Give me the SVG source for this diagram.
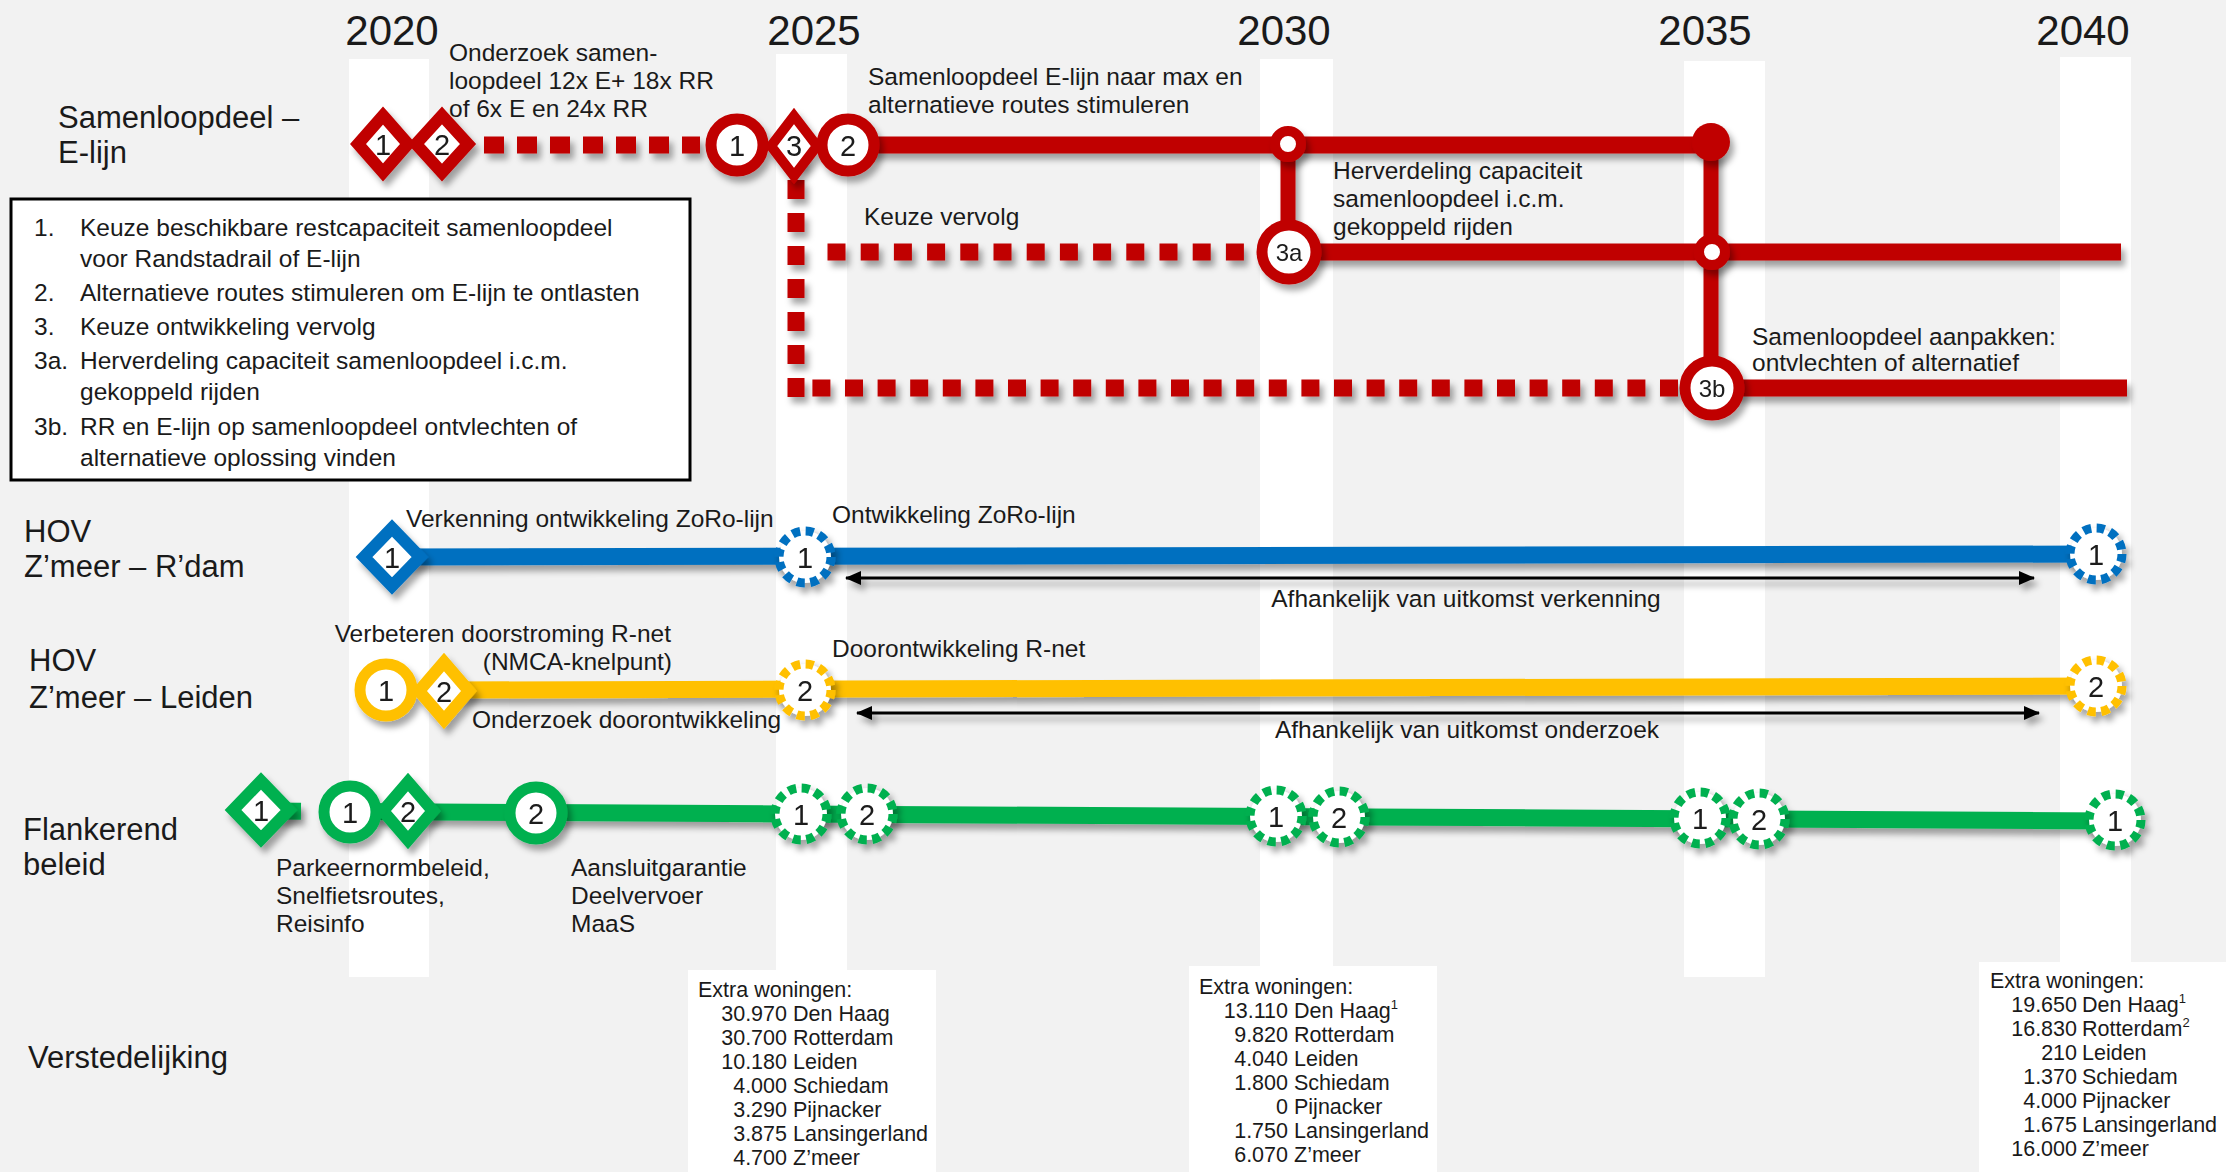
<svg xmlns="http://www.w3.org/2000/svg" width="2226" height="1172" viewBox="0 0 2226 1172">
<defs>
<style>
text{font-family:"Liberation Sans",Arial,sans-serif;fill:#1a1a1a}
.yr{font-size:42px;text-anchor:middle}
.row{font-size:31px}
.lb{font-size:24.5px}
.bx{font-size:21.5px}
.n{font-size:29px;text-anchor:middle}
.n2{font-size:24px;text-anchor:middle}
.end{text-anchor:end}
.mid{text-anchor:middle}
.band{fill:#fff}
.ln{fill:none;stroke-width:17;stroke-linecap:butt}
.vl{fill:none;stroke-width:15}
.dot{fill:none;stroke-width:17;stroke-dasharray:18 15.2}
.red{stroke:#c00000}
.blue{stroke:#0070c0}
.yel{stroke:#ffc000}
.grn{stroke:#00b050}
.dm{fill:#fff;stroke-width:12;stroke-linejoin:miter}
.ci{fill:#fff;stroke-width:11}
.dc{fill:#fff;stroke-width:9;stroke-dasharray:8 5.6}
.arr{stroke:#000;stroke-width:3;fill:none;marker-start:url(#ah);marker-end:url(#ah)}
</style>
<filter id="sh" x="-5%" y="-20%" width="110%" height="150%">
<feDropShadow dx="4" dy="6" stdDeviation="3" flood-color="#000" flood-opacity="0.35"/>
</filter>
<marker id="ah" viewBox="0 0 16 14" refX="15" refY="7" markerWidth="16" markerHeight="14" markerUnits="userSpaceOnUse" orient="auto-start-reverse">
<path d="M0,0 L16,7 L0,14 Z" fill="#000"/>
</marker>
</defs>
<rect x="0" y="0" width="2226" height="1172" fill="#f2f2f2"/>
<g id="bands">
<rect class="band" x="349" y="59" width="80" height="918"/>
<rect class="band" x="776" y="54" width="71" height="930"/>
<rect class="band" x="1260" y="59" width="73" height="918"/>
<rect class="band" x="1684" y="61" width="81" height="916"/>
<rect class="band" x="2060" y="57" width="71" height="920"/>
</g>
<g id="years">
<text class="yr" x="392" y="45">2020</text>
<text class="yr" x="814" y="45">2025</text>
<text class="yr" x="1284" y="45">2030</text>
<text class="yr" x="1705" y="45">2035</text>
<text class="yr" x="2083" y="45">2040</text>
</g>
<g id="row-labels">
<text class="row" x="58" y="128">Samenloopdeel –</text>
<text class="row" x="58" y="163">E-lijn</text>
<text class="row" x="24" y="542">HOV</text>
<text class="row" x="24" y="577">Z’meer – R’dam</text>
<text class="row" x="29" y="671">HOV</text>
<text class="row" x="29" y="708">Z’meer – Leiden</text>
<text class="row" x="23" y="840">Flankerend</text>
<text class="row" x="23" y="875">beleid</text>
<text class="row" x="28" y="1068">Verstedelijking</text>
</g>
<g id="legend">
<rect x="11" y="199" width="679" height="281" fill="#fff" stroke="#000" stroke-width="3"/>
<text class="lb" x="34" y="236">1.</text><text class="lb" x="80" y="236">Keuze beschikbare restcapaciteit samenloopdeel</text>
<text class="lb" x="80" y="267">voor Randstadrail of E-lijn</text>
<text class="lb" x="34" y="301">2.</text><text class="lb" x="80" y="301">Alternatieve routes stimuleren om E-lijn te ontlasten</text>
<text class="lb" x="34" y="335">3.</text><text class="lb" x="80" y="335">Keuze ontwikkeling vervolg</text>
<text class="lb" x="34" y="369">3a.</text><text class="lb" x="80" y="369">Herverdeling capaciteit samenloopdeel i.c.m.</text>
<text class="lb" x="80" y="400">gekoppeld rijden</text>
<text class="lb" x="34" y="435">3b.</text><text class="lb" x="80" y="435">RR en E-lijn op samenloopdeel ontvlechten of</text>
<text class="lb" x="80" y="466">alternatieve oplossing vinden</text>
</g>
<g id="connectors" filter="url(#sh)">
<path class="dot red" d="M484,145 H700" style="stroke-dasharray:20 13"/>
<path class="dot red" d="M796,397 V150" style="stroke-dasharray:19 14"/>
<path class="dot red" d="M827.5,252 H1262"/>
<path class="dot red" d="M812.4,388 H1684" style="stroke-dasharray:18 14.6"/>
<path class="ln red" d="M848,145 H1711"/>
<path class="vl red" d="M1288,144 V252"/>
<path class="vl red" d="M1711,142 V388"/>
<path class="ln red" d="M1289,252 H2121"/>
<path class="ln red" d="M1712,388 H2127"/>
<path class="ln blue" d="M392,557 L2096,554"/>
<path class="ln yel" d="M444,690 L2096,686"/>
<path class="ln grn" d="M261,811 L301,811.2"/>
<path class="ln grn" d="M350,811.5 L2115,821"/>
<path class="arr" d="M846,578 H2034"/>
<path class="arr" d="M857,713 H2039"/>
</g>
<g id="nodes" filter="url(#sh)">
<g id="e-d1"><polygon class="dm red" points="383,115.5 408,144 383,172.5 358,144"/><text class="n" x="383" y="154.5">1</text></g>
<g id="e-d2"><polygon class="dm red" points="442,115.5 468,144 442,172.5 416,144"/><text class="n" x="442" y="154.5">2</text></g>
<g id="e-c1"><circle class="ci red" cx="737" cy="145" r="26"/><text class="n" x="737" y="155.5">1</text></g>
<g id="e-c2"><circle class="ci red" cx="848" cy="145" r="26"/><text class="n" x="848" y="155.5">2</text></g>
<g id="e-d3"><polygon class="dm red" points="794,116 817,146 794,176 771,146" style="stroke-width:10"/><text class="n" x="794" y="156">3</text></g>
<g id="e-j2030"><circle class="ci red" cx="1288" cy="144" r="13" style="stroke-width:10"/></g>
<g id="e-j2035a"><circle cx="1711" cy="142" r="19" fill="#c00000"/></g>
<g id="e-c3a"><circle class="ci red" cx="1289" cy="252" r="27"/><text class="n2" x="1289" y="260.5">3a</text></g>
<g id="e-j2035b"><circle class="ci red" cx="1712" cy="252" r="13" style="stroke-width:10"/></g>
<g id="e-c3b"><circle class="ci red" cx="1712" cy="388" r="27"/><text class="n2" x="1712" y="396.5">3b</text></g>
<g id="r-d1"><polygon class="dm blue" points="392,528 420,557 392,586 364,557"/><text class="n" x="392" y="567.5">1</text></g>
<g id="r-c2025"><circle class="dc blue" cx="805" cy="557" r="26"/><text class="n" x="805" y="567.5">1</text></g>
<g id="r-c2040"><circle class="dc blue" cx="2096" cy="554" r="26"/><text class="n" x="2096" y="564.5">1</text></g>
<g id="l-c1"><circle class="ci yel" cx="386" cy="690" r="26"/><text class="n" x="386" y="700.5">1</text></g>
<g id="l-d2"><polygon class="dm yel" points="444,662 469,691 444,720 419,691"/><text class="n" x="444" y="701.5">2</text></g>
<g id="l-c2025"><circle class="dc yel" cx="805" cy="690" r="26"/><text class="n" x="805" y="700.5">2</text></g>
<g id="l-c2040"><circle class="dc yel" cx="2096" cy="686" r="26"/><text class="n" x="2096" y="696.5">2</text></g>
<g id="f-d1"><polygon class="dm grn" points="261,781 289,810 261,839 233,810"/><text class="n" x="261" y="820.5">1</text></g>
<g id="f-c1"><circle class="ci grn" cx="350" cy="812" r="26"/><text class="n" x="350" y="822.5">1</text></g>
<g id="f-d2"><polygon class="dm grn" points="408,782 433,811 408,840 383,811"/><text class="n" x="408" y="821.5">2</text></g>
<g id="f-c2"><circle class="ci grn" cx="536" cy="813" r="26"/><text class="n" x="536" y="823.5">2</text></g>
<g id="f-c2025a"><circle class="dc grn" cx="801" cy="814" r="26"/><text class="n" x="801" y="824.5">1</text></g>
<g id="f-c2025b"><circle class="dc grn" cx="867" cy="814" r="26"/><text class="n" x="867" y="824.5">2</text></g>
<g id="f-c2030a"><circle class="dc grn" cx="1276" cy="816" r="26"/><text class="n" x="1276" y="826.5">1</text></g>
<g id="f-c2030b"><circle class="dc grn" cx="1339" cy="817" r="26"/><text class="n" x="1339" y="827.5">2</text></g>
<g id="f-c2035a"><circle class="dc grn" cx="1700" cy="818" r="26"/><text class="n" x="1700" y="828.5">1</text></g>
<g id="f-c2035b"><circle class="dc grn" cx="1759" cy="819" r="26"/><text class="n" x="1759" y="829.5">2</text></g>
<g id="f-c2040"><circle class="dc grn" cx="2115" cy="820" r="26"/><text class="n" x="2115" y="830.5">1</text></g>
</g>
<g id="annotations">
<text class="lb" x="449" y="61">Onderzoek samen-</text>
<text class="lb" x="449" y="89">loopdeel 12x E+ 18x RR</text>
<text class="lb" x="449" y="117">of 6x E en 24x RR</text>
<text class="lb" x="868" y="85">Samenloopdeel E-lijn naar max en</text>
<text class="lb" x="868" y="113">alternatieve routes stimuleren</text>
<text class="lb" x="864" y="225">Keuze vervolg</text>
<text class="lb" x="1333" y="179">Herverdeling capaciteit</text>
<text class="lb" x="1333" y="207">samenloopdeel i.c.m.</text>
<text class="lb" x="1333" y="235">gekoppeld rijden</text>
<text class="lb" x="1752" y="345">Samenloopdeel aanpakken:</text>
<text class="lb" x="1752" y="371">ontvlechten of alternatief</text>
<text class="lb" x="406" y="527">Verkenning ontwikkeling ZoRo-lijn</text>
<text class="lb" x="832" y="523">Ontwikkeling ZoRo-lijn</text>
<text class="lb mid" x="1466" y="607">Afhankelijk van uitkomst verkenning</text>
<text class="lb end" x="671" y="642">Verbeteren doorstroming R-net</text>
<text class="lb end" x="672" y="670">(NMCA-knelpunt)</text>
<text class="lb" x="832" y="657">Doorontwikkeling R-net</text>
<text class="lb" x="472" y="728">Onderzoek doorontwikkeling</text>
<text class="lb mid" x="1467" y="738">Afhankelijk van uitkomst onderzoek</text>
<text class="lb" x="276" y="876">Parkeernormbeleid,</text>
<text class="lb" x="276" y="904">Snelfietsroutes,</text>
<text class="lb" x="276" y="932">Reisinfo</text>
<text class="lb" x="571" y="876">Aansluitgarantie</text>
<text class="lb" x="571" y="904">Deelvervoer</text>
<text class="lb" x="571" y="932">MaaS</text>
</g>
<g id="box-2025">
<rect x="688" y="970" width="248" height="202" fill="#fff"/>
<text class="bx" x="698" y="997">Extra woningen:</text>
<text class="bx end" x="787" y="1021">30.970</text><text class="bx" x="793" y="1021">Den Haag</text>
<text class="bx end" x="787" y="1045">30.700</text><text class="bx" x="793" y="1045">Rotterdam</text>
<text class="bx end" x="787" y="1069">10.180</text><text class="bx" x="793" y="1069">Leiden</text>
<text class="bx end" x="787" y="1093">4.000</text><text class="bx" x="793" y="1093">Schiedam</text>
<text class="bx end" x="787" y="1117">3.290</text><text class="bx" x="793" y="1117">Pijnacker</text>
<text class="bx end" x="787" y="1141">3.875</text><text class="bx" x="793" y="1141">Lansingerland</text>
<text class="bx end" x="787" y="1165">4.700</text><text class="bx" x="793" y="1165">Z’meer</text>
</g>
<g id="box-2030">
<rect x="1189" y="966" width="248" height="206" fill="#fff"/>
<text class="bx" x="1199" y="994">Extra woningen:</text>
<text class="bx end" x="1288" y="1018">13.110</text><text class="bx" x="1294" y="1018">Den Haag<tspan font-size="13" dy="-9">1</tspan></text>
<text class="bx end" x="1288" y="1042">9.820</text><text class="bx" x="1294" y="1042">Rotterdam</text>
<text class="bx end" x="1288" y="1066">4.040</text><text class="bx" x="1294" y="1066">Leiden</text>
<text class="bx end" x="1288" y="1090">1.800</text><text class="bx" x="1294" y="1090">Schiedam</text>
<text class="bx end" x="1288" y="1114">0</text><text class="bx" x="1294" y="1114">Pijnacker</text>
<text class="bx end" x="1288" y="1138">1.750</text><text class="bx" x="1294" y="1138">Lansingerland</text>
<text class="bx end" x="1288" y="1162">6.070</text><text class="bx" x="1294" y="1162">Z’meer</text>
</g>
<g id="box-2040">
<rect x="1979" y="962" width="247" height="210" fill="#fff"/>
<text class="bx" x="1990" y="988">Extra woningen:</text>
<text class="bx end" x="2077" y="1012">19.650</text><text class="bx" x="2082" y="1012">Den Haag<tspan font-size="13" dy="-9">1</tspan></text>
<text class="bx end" x="2077" y="1036">16.830</text><text class="bx" x="2082" y="1036">Rotterdam<tspan font-size="13" dy="-9">2</tspan></text>
<text class="bx end" x="2077" y="1060">210</text><text class="bx" x="2082" y="1060">Leiden</text>
<text class="bx end" x="2077" y="1084">1.370</text><text class="bx" x="2082" y="1084">Schiedam</text>
<text class="bx end" x="2077" y="1108">4.000</text><text class="bx" x="2082" y="1108">Pijnacker</text>
<text class="bx end" x="2077" y="1132">1.675</text><text class="bx" x="2082" y="1132">Lansingerland</text>
<text class="bx end" x="2077" y="1156">16.000</text><text class="bx" x="2082" y="1156">Z’meer</text>
</g>
</svg>
